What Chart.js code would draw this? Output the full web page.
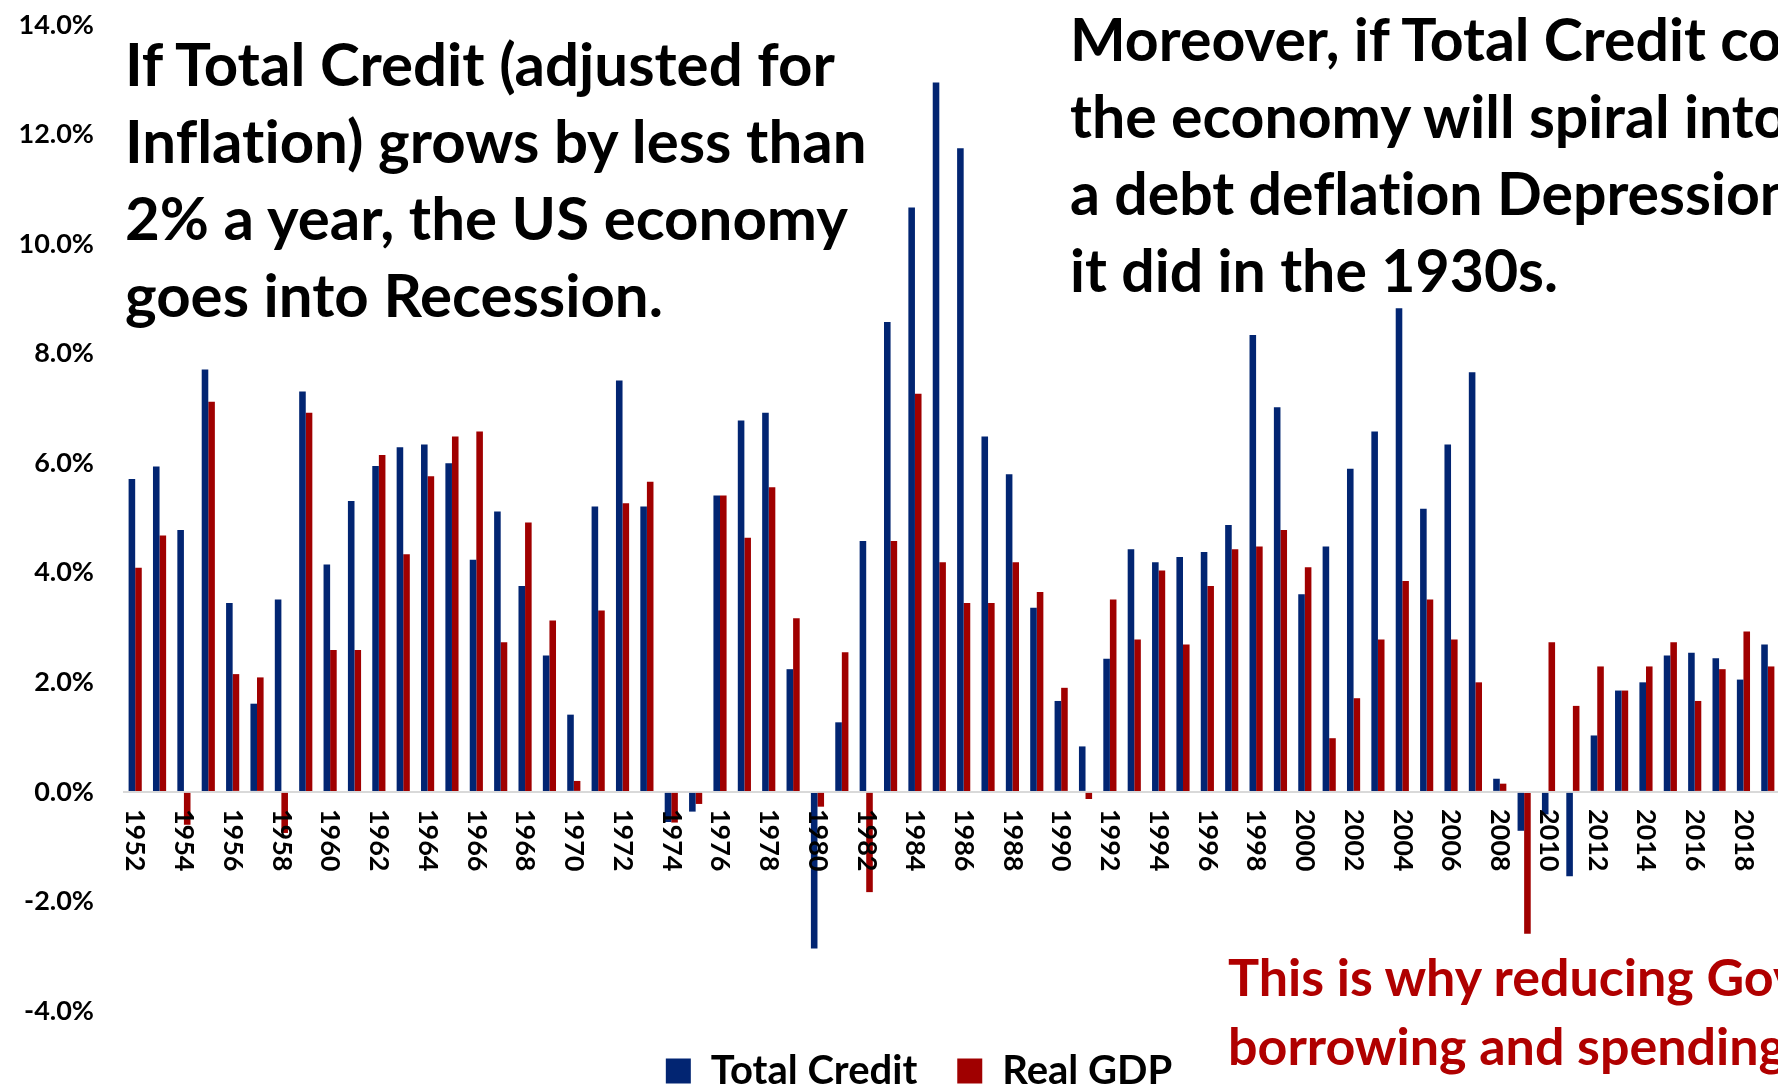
<!DOCTYPE html>
<html>
<head>
<meta charset="utf-8">
<script src="https://cdn.jsdelivr.net/npm/chart.js@4.4.1/dist/chart.umd.min.js"></script>
<style>
  html, body { margin: 0; padding: 0; width: 1778px; height: 1090px; overflow: hidden; background: #fff; }
  #wrap { position: absolute; left: 0; top: 0; width: 1850px; height: 1130px; }
  .note { position: absolute; white-space: nowrap; font-family: Lato, sans-serif; font-weight: 700; color: #000; font-variant-ligatures: none; }
  #noteLeft { left: 125px; top: 25px; font-size: 60px; line-height: 77px; }
  #noteRight { left: 1070px; top: 0px; font-size: 59px; line-height: 77px; }
  #noteRed { left: 1228px; top: 942px; font-size: 52px; line-height: 69px; color: #b00000; }
</style>
</head>
<body>
<div id="wrap"><canvas id="creditChart"></canvas></div>
<div class="note" id="noteLeft">If Total Credit (adjusted for<br>Inflation) grows by less than<br>2% a year, the US economy<br>goes into Recession.</div>
<div class="note" id="noteRight">Moreover, if Total Credit contracts,<br>the economy will spiral into<br>a debt deflation Depression, as<br>it did in the 1930s.</div>
<div class="note" id="noteRed">This is why reducing Government<br>borrowing and spending</div>
<script>
// years on the x axis
const years = [];
for (let y = 1952; y <= 2019; y++) years.push(String(y));

// annual growth, %
const totalCredit = [
    5.71, 5.94, 4.78, 7.71, 3.45, 1.61, 3.51, 7.31, 4.15, 5.31,
    5.95, 6.29, 6.34, 6.00, 4.24, 5.12, 3.76, 2.49, 1.41, 5.21,
    7.51, 5.21, -0.55, -0.36, 5.41, 6.78, 6.92, 2.24, -2.86, 1.27,
    4.58, 8.58, 10.67, 12.95, 11.75, 6.49, 5.80, 3.36, 1.66, 0.83,
    2.43, 4.43, 4.19, 4.29, 4.38, 4.87, 8.34, 7.02, 3.61, 4.48,
    5.90, 6.58, 8.83, 5.17, 6.34, 7.66, 0.24, -0.71, -0.41, -1.54,
    1.03, 1.85, 2.00, 2.49, 2.54, 2.44, 2.05, 2.69
];
const realGDP = [
    4.09, 4.68, -0.60, 7.12, 2.15, 2.09, -0.75, 6.92, 2.59, 2.59,
    6.15, 4.34, 5.76, 6.49, 6.58, 2.73, 4.92, 3.13, 0.20, 3.31,
    5.27, 5.66, -0.56, -0.22, 5.41, 4.64, 5.56, 3.17, -0.27, 2.55,
    -1.83, 4.58, 7.27, 4.19, 3.45, 3.45, 4.19, 3.65, 1.90, -0.13,
    3.51, 2.78, 4.04, 2.69, 3.76, 4.43, 4.48, 4.78, 4.10, 0.98,
    1.71, 2.78, 3.85, 3.51, 2.78, 2.00, 0.15, -2.59, 2.73, 1.57,
    2.29, 1.85, 2.29, 2.73, 1.66, 2.24, 2.93, 2.29
];

const yMin = -4;
const yMax = 14;
const yStep = 2;

// year labels sit just under the zero line, turned to read top to bottom
const yearLabels = {
    id: 'yearLabels',
    afterDatasetsDraw(chart) {
        const { ctx, scales: { x, y } } = chart;
        const y0 = y.getPixelForValue(0);
        ctx.save();
        ctx.font = 'bold 27px Lato';
        ctx.fillStyle = '#000';
        ctx.textAlign = 'left';
        ctx.textBaseline = 'middle';
        years.forEach((yr, i) => {
            if (i % 2) return; // every other year
            ctx.save();
            ctx.translate(x.getPixelForValue(i), y0 + 17);
            ctx.rotate(Math.PI / 2);
            ctx.fillText(yr, 0, 0);
            ctx.restore();
        });
        ctx.restore();
    }
};

const ctx = document.getElementById('creditChart').getContext('2d');

const creditChart = new Chart(ctx, {
    type: 'bar',
    data: {
        labels: years,
        datasets: [{
            label: 'Total Credit',
            data: totalCredit,
            backgroundColor: '#022572',
            borderWidth: 0
        }, {
            label: 'Real GDP',
            data: realGDP,
            backgroundColor: '#a00000',
            borderWidth: 0
        }]
    },
    options: {
        responsive: true,
        maintainAspectRatio: false,
        animation: false,
        layout: {
            padding: { left: 0, right: 12, top: 25, bottom: 29 }
        },
        datasets: {
            bar: { categoryPercentage: 0.54, barPercentage: 1.0 }
        },
        plugins: {
            legend: {
                position: 'bottom',
                labels: {
                    color: '#000',
                    font: { family: 'Lato', size: 40, weight: 'bold' },
                    boxWidth: 25,
                    boxHeight: 25,
                    padding: 40
                }
            },
            tooltip: { enabled: false }
        },
        scales: {
            x: { display: false },
            y: {
                min: yMin,
                max: yMax,
                border: { display: false },
                grid: {
                    drawTicks: false,
                    lineWidth: 2,
                    color: c => c.tick && c.tick.value === 0 ? '#d9d9d9' : 'rgba(0,0,0,0)'
                },
                ticks: {
                    stepSize: yStep,
                    padding: 29,
                    color: '#000',
                    font: { family: 'Lato', size: 27, weight: 'bold' },
                    callback: v => v.toFixed(1) + '%'
                },
                // fixed axis width; the top label may hang into the layout padding
                afterFit: s => { s.width = 123; s.paddingTop = 0; s.paddingBottom = 0; }
            },
            // empty strip on the right, the plot runs off the page there
            y2: {
                position: 'right',
                grid: { display: false },
                border: { display: false },
                ticks: { display: false },
                afterFit: s => { s.width = 58; }
            }
        }
    },
    plugins: [yearLabels]
});
</script>
</body>
</html>
